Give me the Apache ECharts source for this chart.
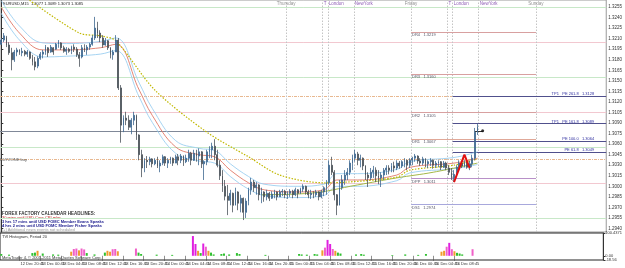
<!DOCTYPE html>
<html>
<head>
<meta charset="utf-8">
<title>EURUSD,M15</title>
<script src="https://cdn.jsdelivr.net/npm/echarts@6/dist/echarts.min.js"></script>
<style>
html, body {margin:0; padding:0; background:#fff;}
#grafica {width:625px; height:268px;}
</style>
</head>
<body>
<div id="grafica"></div>
<script>
// velas de 30 min desde 12 Dec 17:15: [open, close, low, high]
var velas = [
[1.3202,1.3208,1.3201,1.3211],[1.3208,1.3214,1.3205,1.3218],[1.3212,1.3201,1.3198,1.3214],[1.3201,1.3190,1.3187,1.3205],
[1.3190,1.3180,1.3165,1.3197],[1.3180,1.3191,1.3177,1.3194],[1.3191,1.3194,1.3185,1.3197],[1.3194,1.3190,1.3187,1.3195],
[1.3190,1.3192,1.3185,1.3197],[1.3192,1.3188,1.3185,1.3194],
[1.3188,1.3191,1.3184,1.3194],[1.3191,1.3182,1.3180,1.3192],[1.3182,1.3177,1.3172,1.3187],[1.3177,1.3170,1.3165,1.3184],
[1.3171,1.3182,1.3168,1.3185],[1.3182,1.3188,1.3180,1.3191],[1.3188,1.3191,1.3182,1.3194],[1.3191,1.3198,1.3187,1.3201],
[1.3197,1.3190,1.3184,1.3198],[1.3191,1.3198,1.3190,1.3201],
[1.3197,1.3191,1.3187,1.3198],[1.3195,1.3202,1.3194,1.3204],[1.3202,1.3205,1.3197,1.3208],[1.3204,1.3197,1.3194,1.3205],
[1.3197,1.3192,1.3190,1.3200],[1.3192,1.3195,1.3187,1.3198],[1.3195,1.3192,1.3190,1.3197],[1.3192,1.3198,1.3188,1.3200],
[1.3198,1.3195,1.3191,1.3202],[1.3195,1.3187,1.3184,1.3198],
[1.3187,1.3182,1.3170,1.3191],[1.3184,1.3197,1.3182,1.3201],[1.3197,1.3194,1.3191,1.3202],[1.3194,1.3198,1.3187,1.3201],
[1.3198,1.3202,1.3194,1.3204],[1.3202,1.3211,1.3200,1.3215],[1.3211,1.3225,1.3208,1.3241],[1.3225,1.3218,1.3211,1.3234],
[1.3218,1.3211,1.3205,1.3222],[1.3211,1.3201,1.3197,1.3215],
[1.3201,1.3207,1.3200,1.3211],[1.3207,1.3197,1.3194,1.3208],[1.3197,1.3187,1.3182,1.3198],[1.3187,1.3191,1.3180,1.3194],
[1.3191,1.3208,1.3191,1.3215],[1.3208,1.3140,1.3137,1.3211],[1.3140,1.3087,1.3062,1.3144],[1.3087,1.3097,1.3077,1.3101],
[1.3097,1.3094,1.3087,1.3106],[1.3094,1.3084,1.3080,1.3101],
[1.3084,1.3094,1.3074,1.3097],[1.3094,1.3101,1.3087,1.3106],[1.3101,1.3073,1.3066,1.3102],[1.3073,1.3045,1.3037,1.3074],
[1.3045,1.3026,1.3013,1.3052],[1.3026,1.3037,1.3020,1.3040],[1.3037,1.3035,1.3026,1.3043],[1.3035,1.3039,1.3030,1.3042],
[1.3039,1.3032,1.3027,1.3040],[1.3032,1.3037,1.3030,1.3040],
[1.3037,1.3029,1.3026,1.3042],[1.3029,1.3033,1.3020,1.3037],[1.3033,1.3042,1.3030,1.3045],[1.3042,1.3033,1.3029,1.3043],
[1.3033,1.3037,1.3026,1.3040],[1.3037,1.3040,1.3032,1.3042],[1.3040,1.3033,1.3029,1.3041],[1.3033,1.3042,1.3033,1.3045],
[1.3042,1.3037,1.3030,1.3046],[1.3037,1.3043,1.3033,1.3046],
[1.3043,1.3035,1.3029,1.3044],[1.3035,1.3040,1.3033,1.3045],[1.3040,1.3047,1.3035,1.3052],[1.3047,1.3037,1.3030,1.3049],
[1.3037,1.3047,1.3036,1.3052],[1.3047,1.3043,1.3035,1.3052],[1.3043,1.3049,1.3030,1.3054],[1.3049,1.3032,1.3026,1.3050],
[1.3032,1.3035,1.3009,1.3037],[1.3035,1.3049,1.3030,1.3052],
[1.3049,1.3052,1.3040,1.3057],[1.3052,1.3057,1.3040,1.3062],[1.3057,1.3045,1.3037,1.3067],[1.3045,1.3030,1.3027,1.3052],
[1.3030,1.3015,1.3009,1.3037],[1.3015,1.3000,1.2992,1.3023],[1.3000,1.2986,1.2980,1.3009],[1.2986,1.2980,1.2959,1.3002],
[1.2980,1.2990,1.2973,1.2995],[1.2990,1.2973,1.2963,1.2991],
[1.2973,1.2992,1.2973,1.2998],[1.2992,1.2976,1.2966,1.2993],[1.2976,1.2983,1.2963,1.2988],[1.2983,1.2963,1.2952,1.2984],
[1.2963,1.2979,1.2955,1.2983],[1.2979,1.2995,1.2973,1.2998],[1.2995,1.3006,1.2988,1.3012],[1.3006,1.2998,1.2992,1.3009],
[1.2998,1.3002,1.2988,1.3006],[1.3002,1.2988,1.2980,1.3003],
[1.2988,1.2992,1.2976,1.2998],[1.2992,1.2985,1.2978,1.2993],[1.2985,1.2990,1.2980,1.2995],[1.2990,1.2983,1.2979,1.2992],
[1.2983,1.2989,1.2982,1.2993],[1.2989,1.2992,1.2983,1.2995],[1.2992,1.2985,1.2980,1.2993],[1.2985,1.2992,1.2985,1.2995],
[1.2992,1.2993,1.2986,1.2996],[1.2993,1.2988,1.2983,1.2995],
[1.2988,1.2990,1.2982,1.2993],[1.2990,1.2993,1.2985,1.2996],[1.2993,1.2988,1.2983,1.2995],[1.2988,1.2995,1.2986,1.2998],
[1.2995,1.2990,1.2983,1.2996],[1.2990,1.2996,1.2989,1.2998],[1.2996,1.3000,1.2992,1.3003],[1.3000,1.2992,1.2988,1.3001],
[1.2992,1.2988,1.2983,1.2995],[1.2988,1.2990,1.2982,1.2995],
[1.2990,1.2988,1.2983,1.2993],[1.2988,1.2992,1.2985,1.2995],[1.2992,1.2985,1.2980,1.2993],[1.2985,1.2992,1.2983,1.2995],
[1.2992,1.2998,1.2986,1.3000],[1.2998,1.3005,1.2988,1.3009],[1.3005,1.3030,1.3002,1.3037],[1.3030,1.3020,1.3016,1.3042],
[1.3020,1.2988,1.2980,1.3023],[1.2988,1.2973,1.2959,1.2989],
[1.2973,1.2998,1.2973,1.3009],[1.2998,1.3009,1.2995,1.3016],[1.3009,1.3016,1.3002,1.3023],[1.3016,1.3020,1.3009,1.3026],
[1.3020,1.3033,1.3016,1.3037],[1.3033,1.3040,1.3023,1.3045],[1.3040,1.3046,1.3035,1.3052],[1.3046,1.3037,1.3030,1.3049],
[1.3037,1.3040,1.3027,1.3045],[1.3040,1.3029,1.3023,1.3041],
[1.3029,1.3016,1.3009,1.3030],[1.3016,1.3012,1.2999,1.3020],[1.3012,1.3020,1.3009,1.3026],[1.3020,1.3023,1.3012,1.3029],
[1.3023,1.3015,1.3006,1.3027],[1.3015,1.3012,1.3003,1.3023],[1.3012,1.3016,1.2999,1.3020],[1.3016,1.3023,1.3009,1.3026],
[1.3023,1.3026,1.3016,1.3030],[1.3026,1.3023,1.3017,1.3030],
[1.3023,1.3029,1.3020,1.3033],[1.3029,1.3026,1.3020,1.3035],[1.3026,1.3033,1.3023,1.3037],[1.3033,1.3029,1.3025,1.3036],
[1.3029,1.3035,1.3026,1.3037],[1.3035,1.3037,1.3027,1.3040],[1.3037,1.3030,1.3023,1.3038],[1.3030,1.3037,1.3026,1.3040],
[1.3037,1.3040,1.3030,1.3042],[1.3040,1.3043,1.3035,1.3046],
[1.3043,1.3036,1.3032,1.3044],[1.3036,1.3033,1.3029,1.3040],[1.3033,1.3039,1.3030,1.3042],[1.3039,1.3032,1.3027,1.3040],
[1.3032,1.3035,1.3026,1.3037],[1.3035,1.3037,1.3029,1.3040],[1.3037,1.3030,1.3025,1.3038],[1.3030,1.3033,1.3026,1.3036],
[1.3033,1.3035,1.3027,1.3037],[1.3035,1.3027,1.3023,1.3036],
[1.3027,1.3033,1.3026,1.3036],[1.3033,1.3026,1.3023,1.3035],[1.3026,1.3020,1.3016,1.3030],[1.3020,1.3012,1.3009,1.3026],
[1.3012,1.3017,1.3006,1.3023],[1.3017,1.3027,1.3015,1.3030],[1.3027,1.3033,1.3023,1.3037],[1.3033,1.3029,1.3026,1.3036],
[1.3029,1.3035,1.3027,1.3037],[1.3035,1.3027,1.3025,1.3036],
[1.3027,1.3032,1.3023,1.3036],[1.3032,1.3040,1.3027,1.3045],[1.3040,1.3077,1.3037,1.3083],[1.3077,1.3085,1.3073,1.3089]
];

// medias: [indice, precio]
var maRoja = [[0,1.3255],[7,1.3218],[16,1.3194],[25,1.3194],[38,1.3197],[44,1.3202],[53,1.3137],[58,1.3101],[67,1.3056],[76,1.3045],[82,1.3042],[88,1.3023],[95,1.3005],[101,1.2995],[114,1.2992],[124,1.2995],[129,1.3009],[137,1.3009],[152,1.3016],[157,1.3027],[174,1.3033],[183,1.3040]];
var bandaAlta = [[0,1.3264],[7,1.3228],[16,1.3204],[25,1.3203],[38,1.3206],[44,1.3211],[53,1.3147],[58,1.3111],[67,1.3065],[76,1.3054],[82,1.3051],[88,1.3032],[95,1.3014],[101,1.3003],[114,1.3000],[124,1.3003],[129,1.3018],[137,1.3018],[152,1.3024],[157,1.3035],[174,1.3041],[183,1.3049]];
var bandaBaja = [[0,1.3246],[7,1.3208],[16,1.3184],[25,1.3185],[38,1.3188],[44,1.3193],[53,1.3127],[58,1.3091],[67,1.3047],[76,1.3036],[82,1.3033],[88,1.3014],[95,1.2996],[101,1.2987],[114,1.2984],[124,1.2987],[129,1.3000],[137,1.3000],[152,1.3008],[157,1.3019],[174,1.3025],[183,1.3031]];
var maAmarilla = [[10,1.3267],[30,1.3218],[38,1.3214],[44,1.3207],[59,1.3137],[79,1.3077],[95,1.3042],[107,1.3016],[124,1.3005],[133,1.3006],[152,1.3013],[157,1.3023],[174,1.3030],[183,1.3039]];
var maVerde = [[100,1.2988],[118,1.2990],[137,1.3002],[152,1.3012],[166,1.3020],[183,1.3033]];
var zigzag = [[174,1.3006],[178,1.3045],[180,1.3026]];

// niveles horizontales
var nivelesVerdes = [1.3255, 1.3155, 1.3055, 1.2955];
var nivelesRosas = [1.3205, 1.3105, 1.3005];
var nivelesNaranja = [1.3128, 1.3038];
var pivotNombres = ['DR4', 'DR3', 'DR2', 'DR1', 'DPP', 'DS1'];
var pivotValores = [1.3219, 1.3160, 1.3105, 1.3067, 1.3011, 1.2974];
var pivotColores = ['#d8a0a0', '#d8a0a0', '#d8a0a0', '#e0a898', '#b890c8', '#a8a8dc'];
var tpNombres = ['TP1   PE 261.8', 'TP1   PE 161.8', 'PE 100.0', 'PE 61.8'];
var tpValores = [1.3128, 1.3089, 1.3064, 1.3049];
var lineaGris = 1.3079;

// separadores (indice fraccional de vela)
var dias = ['Thursday', 'Friday', 'Sunday'];
var diasPos = [109.5, 157.5, 205.5];
var sesiones = ['T', 'London', 'NewYork', 'T', 'London', 'NewYork'];
var sesionesPos = [123.5, 125.5, 135.5, 171.5, 173.5, 183.5];

// histograma: [indice, valor]
var histo = [[0,8],[3,5],[12,12],[13,14],[14,22],[16,10],[20,6],[22,5],[27,18],[28,30],[29,32],[30,24],[31,32],[32,28],[33,12],[36,6],[40,14],[41,22],[42,18],[43,29],[44,30],[45,20],[52,32],[53,14],[54,8],[60,5],[66,4],[74,87],[75,52],[76,22],[77,12],[78,54],[79,40],[80,22],[81,14],[82,6],[85,8],[86,10],[88,6],[91,12],[92,8],[102,4],[115,8],[116,6],[118,5],[121,8],[122,6],[124,24],[125,36],[126,70],[127,52],[128,30],[129,22],[130,14],[131,10],[137,6],[139,8],[140,5],[151,3],[156,6],[161,4],[164,8],[170,18],[171,22],[172,40],[173,57],[174,29],[175,20],[176,13],[177,10],[178,6],[182,29]];

var ticksPrecio = [1.2940,1.2955,1.2970,1.2985,1.3000,1.3015,1.3030,1.3045,1.3060,1.3075,1.3090,1.3105,1.3120,1.3135,1.3150,1.3165,1.3180,1.3195,1.3210,1.3225,1.3240,1.3255];
var ticksHisto = [-18.56, 0, 100.4371];
var etiquetasHora = ['12 Dec 2011','12 Dec 20:45','13 Dec 00:45','13 Dec 04:45','13 Dec 08:45','13 Dec 12:45','13 Dec 16:45','13 Dec 20:45','14 Dec 00:45','14 Dec 04:45','14 Dec 08:45','14 Dec 12:45','14 Dec 16:45','14 Dec 20:45','15 Dec 00:45','15 Dec 04:45','15 Dec 08:45','15 Dec 12:45','15 Dec 16:45','15 Dec 20:45','16 Dec 00:45','16 Dec 04:45','16 Dec 08:45','16 Dec 12:45'];
var posEtiquetas = [0,7,15,23,31,39,47,55,63,71,79,87,95,103,111,119,127,135,143,151,159,167,175,183];

var TOTAL = 233;
var fuente = 'Liberation Sans';

var categorias = [];
for (var i = 0; i < TOTAL; i++) categorias.push(String(i));
var mapaHora = {};
for (var k = 0; k < posEtiquetas.length; k++) mapaHora[posEtiquetas[k]] = etiquetasHora[k];

function colorHisto(v) {
  if (v >= 45) return '#e020e0';
  if (v >= 28) return '#f060c8';
  if (v >= 17) return '#f09c30';
  return '#30c030';
}

var lineasCompletas = [];
nivelesVerdes.forEach(function (v) { lineasCompletas.push({yAxis: v, lineStyle: {color: '#c8e8c8', type: 'solid'}}); });
nivelesRosas.forEach(function (v) { lineasCompletas.push({yAxis: v, lineStyle: {color: '#f2c8d0', type: 'solid'}}); });
nivelesNaranja.forEach(function (v, n) {
  lineasCompletas.push({yAxis: v, lineStyle: {color: '#e8b890', type: [3, 1, 1, 1]},
    label: n == 1 ? {show: true, position: 'insideStart', formatter: 'BUYZONE buy', fontSize: 4, color: '#555', fontFamily: fuente, distance: 0} : {show: false}});
});
lineasCompletas.push({yAxis: velas[velas.length - 1][1], lineStyle: {opacity: 0},
  label: {show: true, position: 'end', distance: 1, formatter: velas[velas.length - 1][1].toFixed(4),
    backgroundColor: '#000', color: '#fff', fontSize: 4.5, padding: [1, 1, 0, 1], fontFamily: fuente}});

var segmentos = [];
pivotValores.forEach(function (v, n) {
  segmentos.push([
    {coord: [diasPos[1], v], name: pivotNombres[n] + '   ' + v.toFixed(4), lineStyle: {color: pivotColores[n], type: 'solid', width: 1}},
    {coord: [diasPos[2], v]}
  ]);
});
tpValores.forEach(function (v, n) {
  segmentos.push([
    {coord: [sesionesPos[4], v], name: tpNombres[n] + '   ' + v.toFixed(4), lineStyle: {color: '#50508c', type: 'solid', width: 1},
      label: {position: 'insideEndTop', color: '#3030a0', padding: [0, 12, 0, 0], distance: 0}},
    {coord: [TOTAL - 0.5, v]}
  ]);
});
segmentos.push([{coord: [-0.5, lineaGris], name: '', lineStyle: {color: '#808898', type: 'solid'}}, {coord: [diasPos[1], lineaGris]}]);
segmentos.push([{coord: [182, lineaGris], name: '', lineStyle: {color: '#333', type: 'solid'}}, {coord: [185, lineaGris]}]);

var verticales = [];
diasPos.forEach(function (p) { verticales.push({xAxis: p}); });
sesionesPos.forEach(function (p) { verticales.push({xAxis: p}); });

var textosArriba = [];
dias.forEach(function (d, n) {
  textosArriba.push({value: [diasPos[n], 1.32595], name: d, label: {position: 'inside', color: '#777'}});
});
sesiones.forEach(function (s, n) {
  textosArriba.push({value: [sesionesPos[n], 1.32595], name: s, label: {position: 'right', distance: 1, color: '#7030a0'}});
});

var echarte = echarts.init(document.getElementById('grafica'), null, {renderer: 'canvas'});

var grafica = {
  animation: false,
  backgroundColor: '#fff',
  textStyle: {fontFamily: fuente},
  grid: [
    {left: 0, right: 13, top: 0, height: 232, show: true, borderColor: '#9a9a9a', borderWidth: 1},
    {left: 0, right: 13, top: 233, height: 27, show: true, borderColor: '#222', borderWidth: 1}
  ],
  xAxis: [
    {type: 'category', gridIndex: 0, data: categorias, boundaryGap: true, show: false},
    {type: 'value', gridIndex: 0, min: -0.5, max: TOTAL - 0.5, show: false},
    {type: 'category', gridIndex: 1, data: categorias, boundaryGap: true,
      axisLine: {show: false},
      axisTick: {show: true, alignWithLabel: true, length: 5, lineStyle: {color: '#444', width: 0.6},
        interval: function (idx) { return mapaHora[idx] !== undefined; }},
      axisLabel: {show: true, align: 'left', fontSize: 4, color: '#333', margin: 2, fontFamily: fuente,
        interval: function (idx) { return mapaHora[idx] !== undefined; },
        formatter: function (v, idx) { return ' ' + (mapaHora[idx] || ''); }}
    }
  ],
  yAxis: [
    {type: 'value', gridIndex: 0, position: 'right', min: 1.2935, max: 1.3265, scale: true,
      axisLine: {show: true, lineStyle: {color: '#333'}},
      axisTick: {show: true, length: 2, customValues: ticksPrecio, lineStyle: {color: '#333'}},
      axisLabel: {show: true, customValues: ticksPrecio, fontSize: 4.5, color: '#333', margin: 2, fontFamily: fuente,
        formatter: function (v) { return v.toFixed(4); }},
      splitLine: {show: false}
    },
    {type: 'value', gridIndex: 1, position: 'right', min: ticksHisto[0], max: ticksHisto[2],
      axisLine: {show: true, lineStyle: {color: '#333'}},
      axisTick: {show: true, length: 2, customValues: ticksHisto},
      axisLabel: {show: true, customValues: ticksHisto, fontSize: 4, color: '#333', margin: 2, fontFamily: fuente,
        formatter: function (v) { return v == 0 ? '0.00' : String(v); }},
      splitLine: {show: false}
    }
  ],
  series: [
    {
      name: 'EURUSD', type: 'candlestick', xAxisIndex: 0, yAxisIndex: 0,
      data: velas, barMaxWidth: 2, z: 5,
      itemStyle: {color: '#2c5c86', color0: '#1e252c', borderColor: '#3f6890', borderColor0: '#4c545c', borderWidth: 0.8},
      markLine: {silent: true, symbol: 'none', precision: 4, label: {show: false}, lineStyle: {width: 1}, data: lineasCompletas, z: 1}
    },
    {name: 'bandaAlta', type: 'line', xAxisIndex: 0, yAxisIndex: 0, data: bandaAlta, smooth: 0.4, showSymbol: false, z: 4,
      lineStyle: {color: '#9ccff0', width: 0.9}},
    {name: 'maRoja', type: 'line', xAxisIndex: 0, yAxisIndex: 0, data: maRoja, smooth: 0.4, showSymbol: false, z: 4,
      lineStyle: {color: '#e07868', width: 0.9}},
    {name: 'bandaBaja', type: 'line', xAxisIndex: 0, yAxisIndex: 0, data: bandaBaja, smooth: 0.4, showSymbol: false, z: 4,
      lineStyle: {color: '#9ccff0', width: 0.9}},
    {name: 'maVerde', type: 'line', xAxisIndex: 0, yAxisIndex: 0, data: maVerde, smooth: 0.4, showSymbol: false, z: 4,
      lineStyle: {color: '#a4b848', width: 1}},
    {name: 'maAmarilla', type: 'line', xAxisIndex: 0, yAxisIndex: 0, data: maAmarilla, smooth: 0.3, showSymbol: false, z: 4,
      lineStyle: {color: '#c0b800', width: 1.2, type: [1.5, 1.5]}},
    {name: 'zigzag', type: 'line', xAxisIndex: 0, yAxisIndex: 0, data: zigzag, showSymbol: false, z: 6,
      lineStyle: {color: '#e01010', width: 2}},
    {
      name: 'punto', type: 'scatter', xAxisIndex: 1, yAxisIndex: 0, data: [[185, lineaGris]],
      symbolSize: 3, itemStyle: {color: '#000'}, z: 7,
      markLine: {silent: true, symbol: 'none', precision: 4, z: 2,
        label: {show: true, position: 'insideStartBottom', formatter: '{b}', fontSize: 4, color: '#556', fontFamily: fuente, distance: 1},
        data: segmentos}
    },
    {
      name: 'separadores', type: 'scatter', xAxisIndex: 1, yAxisIndex: 0, data: textosArriba,
      symbolSize: 0, z: 3,
      label: {show: true, formatter: '{b}', fontSize: 4.5, fontFamily: fuente},
      markLine: {silent: true, symbol: 'none', label: {show: false}, z: 1,
        lineStyle: {color: '#c4c4c4', type: [1.5, 1.5], width: 1}, data: verticales}
    },
    {
      name: 'histograma', type: 'bar', xAxisIndex: 2, yAxisIndex: 1, barWidth: 2,
      data: histo.map(function (h) { return {value: h, itemStyle: {color: colorHisto(h[1])}}; })
    }
  ],
  graphic: [
    {type: 'text', left: 3, top: 2, style: {text: 'EURUSD,M15  1.3077 1.3089 1.3073 1.3085', fill: '#222', font: '4px ' + fuente}},
    {type: 'text', left: 2, top: 211, style: {text: 'FOREX FACTORY CALENDAR HEADLINES:', fill: '#333', font: 'bold 4.5px ' + fuente}},
    {type: 'text', left: 2, top: 216, style: {text: '30 mins until USD Core CPI m/m', fill: '#c02020', font: '4px ' + fuente}},
    {type: 'text', left: 2, top: 220, style: {text: '3 hrs 17 mins until USD FOMC Member Evans Speaks', fill: '#202090', font: 'bold 4px ' + fuente}},
    {type: 'text', left: 2, top: 224, style: {text: '4 hrs 2 mins until USD FOMC Member Fisher Speaks', fill: '#202090', font: 'bold 4px ' + fuente}},
    {type: 'text', left: 2, top: 228, style: {text: '[+] Additional news events not scheduled', fill: '#999', font: '4px ' + fuente}},
    {type: 'text', left: 2, top: 235, style: {text: 'TVI Histogram, Period 20', fill: '#333', font: '4px ' + fuente}},
    {type: 'text', left: 2, top: 256, style: {text: 'MetaTrader 4, \u00a9 2001-2011 MetaQuotes Software Corp.', fill: '#333', font: '4px ' + fuente}}
  ]
};

echarte.setOption(grafica);
</script>
</body>
</html>
